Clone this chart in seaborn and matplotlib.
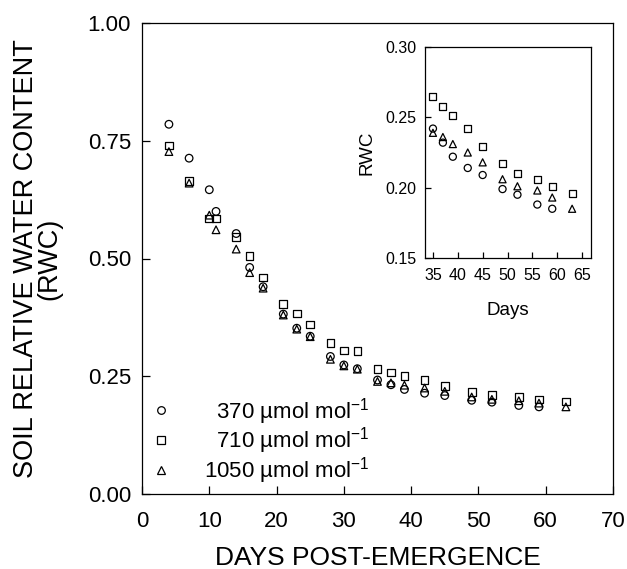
import numpy as np
import pandas as pd
import seaborn as sns
import matplotlib.pyplot as plt

### datos ###
days = [4, 7, 10, 11, 14, 16, 18, 21, 23, 25, 28, 30, 32,
        35, 37, 39, 42, 45, 49, 52, 56, 59, 63]
rwc_370 = [0.785, 0.713, 0.646, 0.600, 0.553, 0.481, 0.440, 0.382, 0.352, 0.335, 0.292, 0.274, 0.266,
           0.242, 0.232, 0.222, 0.214, 0.209, 0.199, 0.195, 0.188, 0.185, np.nan]
rwc_710 = [0.740, 0.665, 0.585, 0.585, 0.546, 0.505, 0.460, 0.404, 0.383, 0.360, 0.321, 0.305, 0.304,
           0.265, 0.258, 0.251, 0.242, 0.229, 0.217, 0.210, 0.206, 0.201, 0.196]
rwc_1050 = [0.727, 0.660, 0.592, 0.561, 0.520, 0.470, 0.437, 0.380, 0.350, 0.334, 0.286, 0.272, 0.265,
            0.239, 0.236, 0.231, 0.225, 0.218, 0.206, 0.201, 0.198, 0.193, 0.185]
labels = ['\u2007370 µmol mol$^{-1}$', '\u2007710 µmol mol$^{-1}$', '1050 µmol mol$^{-1}$']
markers = dict(zip(labels, ['o', 's', '^']))

data = pd.DataFrame({
    'day': days * 3,
    'rwc': rwc_370 + rwc_710 + rwc_1050,
    'co2': [labels[0]] * len(days) + [labels[1]] * len(days) + [labels[2]] * len(days),
})
inset_data = data[data['day'] >= 35]

### estilo ###
sns.set_style('ticks')
plt.rcParams['font.family'] = ['Liberation Sans', 'DejaVu Sans']
plt.rcParams['mathtext.fontset'] = 'custom'
plt.rcParams['mathtext.rm'] = 'Liberation Sans'
plt.rcParams['axes.linewidth'] = 0.9
plt.rcParams['text.color'] = 'black'
plt.rcParams['axes.labelcolor'] = 'black'
plt.rcParams['xtick.color'] = 'black'
plt.rcParams['ytick.color'] = 'black'

fig = plt.figure(figsize=(6.27, 5.69), dpi=100)
ax = fig.add_axes([142 / 627, 75 / 569, 471 / 627, 471 / 569])

sns.scatterplot(data=data, x='day', y='rwc', style='co2', style_order=labels, markers=markers,
                s=30, facecolors='none', edgecolor='black', color='black', linewidth=0.9, ax=ax)

ax.set_xlim(0, 70)
ax.set_ylim(0, 1)
ax.set_xticks(range(0, 71, 10))
ax.set_yticks([0, 0.25, 0.5, 0.75, 1.0])
ax.set_yticklabels(['0.00', '0.25', '0.50', '0.75', '1.00'])
ax.tick_params(direction='in', length=6, width=0.9, labelsize=16, colors='black')
ax.tick_params(axis='x', pad=12)
ax.tick_params(axis='y', pad=8)
ax.set_xlabel('DAYS POST-EMERGENCE', fontsize=19, labelpad=10)
ax.set_ylabel('SOIL RELATIVE WATER CONTENT\n(RWC)', fontsize=19.5, linespacing=0.9, labelpad=18)
for s in ax.spines.values():
    s.set_color('black')

sns.move_legend(ax, 'lower left', bbox_to_anchor=(0.0, 0.0), frameon=False, title=None,
                fontsize=16, handlelength=1.0, handletextpad=1.45, labelspacing=-0.05,
                borderaxespad=0.0, borderpad=0.35)

### inset ###
ins = fig.add_axes([425 / 627, 311 / 569, 166 / 627, 211 / 569])
sns.scatterplot(data=inset_data, x='day', y='rwc', style='co2', style_order=labels, markers=markers,
                s=26, facecolors='none', edgecolor='black', color='black', linewidth=0.9,
                legend=False, ax=ins)
ins.set_xlim(33.4, 66.8)
ins.set_ylim(0.15, 0.30)
ins.set_xticks(range(35, 66, 5))
ins.set_yticks([0.15, 0.20, 0.25, 0.30])
ins.set_yticklabels(['0.15', '0.20', '0.25', '0.30'])
ins.tick_params(direction='in', length=4, width=0.9, labelsize=11.5, colors='black')
ins.tick_params(axis='x', pad=7)
ins.tick_params(axis='y', pad=6)
ins.set_xlabel('Days', fontsize=13.5, labelpad=14)
ins.set_ylabel('RWC', fontsize=13.5, labelpad=7)
for s in ins.spines.values():
    s.set_color('black')

fig.savefig('out.png', dpi=100)
